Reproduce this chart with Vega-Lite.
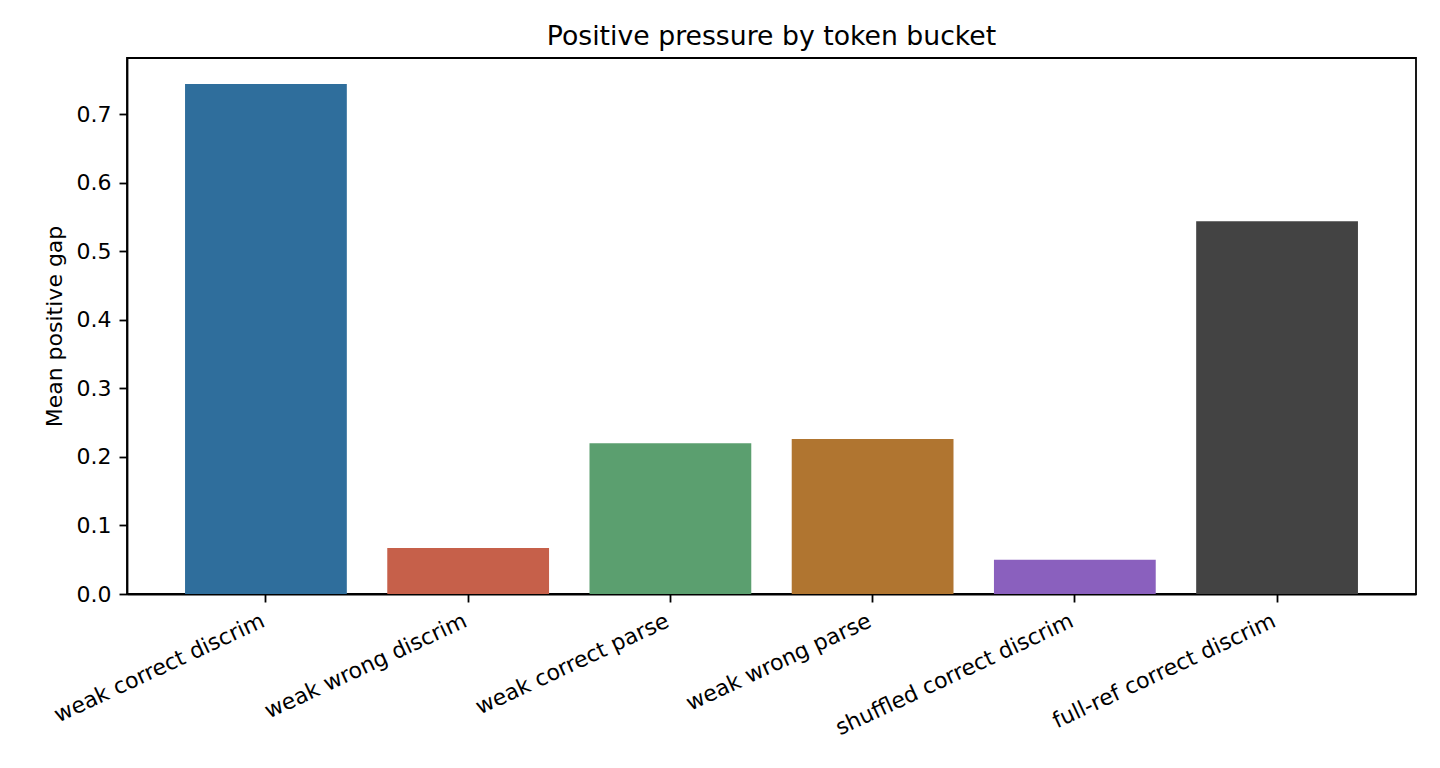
{
  "$schema": "https://vega.github.io/schema/vega-lite/v6.json",
  "autosize": "none",
  "padding": {"left": 127, "top": 58, "right": 24, "bottom": 174},
  "width": 1289,
  "height": 536,
  "background": "white",
  "config": {
    "font": "DejaVu Sans",
    "view": {"stroke": "black", "strokeWidth": 1.8},
    "axis": {
      "grid": false,
      "labelFont": "DejaVu Sans",
      "labelFontSize": 22,
      "labelColor": "black",
      "titleFont": "DejaVu Sans",
      "titleFontSize": 22,
      "titleFontWeight": "normal",
      "titleColor": "black",
      "domainColor": "black",
      "domainWidth": 1.8,
      "tickColor": "black",
      "tickWidth": 1.8,
      "tickSize": 8,
      "labelPadding": 8
    },
    "title": {"font": "DejaVu Sans", "fontSize": 26.7, "fontWeight": "normal", "color": "black"}
  },
  "title": {"text": "Positive pressure by token bucket", "anchor": "middle", "baseline": "alphabetic", "offset": -14},
  "data": {
    "values": [
      {"bucket": "weak correct discrim", "gap": 0.744},
      {"bucket": "weak wrong discrim", "gap": 0.067},
      {"bucket": "weak correct parse", "gap": 0.220},
      {"bucket": "weak wrong parse", "gap": 0.226},
      {"bucket": "shuffled correct discrim", "gap": 0.050},
      {"bucket": "full-ref correct discrim", "gap": 0.544}
    ]
  },
  "mark": {"type": "bar"},
  "encoding": {
    "x": {
      "field": "bucket",
      "type": "nominal",
      "sort": null,
      "title": null,
      "scale": {"paddingInner": 0.2, "paddingOuter": 0.287},
      "axis": {"labelAngle": -25, "labelAlign": "right", "labelBaseline": "top", "labelLimit": 0, "labelOffset": -7}
    },
    "y": {
      "field": "gap",
      "type": "quantitative",
      "title": "Mean positive gap",
      "scale": {"domain": [0, 0.782], "nice": false},
      "axis": {"values": [0, 0.1, 0.2, 0.3, 0.4, 0.5, 0.6, 0.7], "format": ".1f", "titlePadding": 10}
    },
    "color": {
      "field": "bucket",
      "type": "nominal",
      "sort": null,
      "legend": null,
      "scale": {
        "domain": ["weak correct discrim", "weak wrong discrim", "weak correct parse", "weak wrong parse", "shuffled correct discrim", "full-ref correct discrim"],
        "range": ["#2f6e9c", "#c6604a", "#5b9f6f", "#b07530", "#8a60be", "#434343"]
      }
    }
  }
}
